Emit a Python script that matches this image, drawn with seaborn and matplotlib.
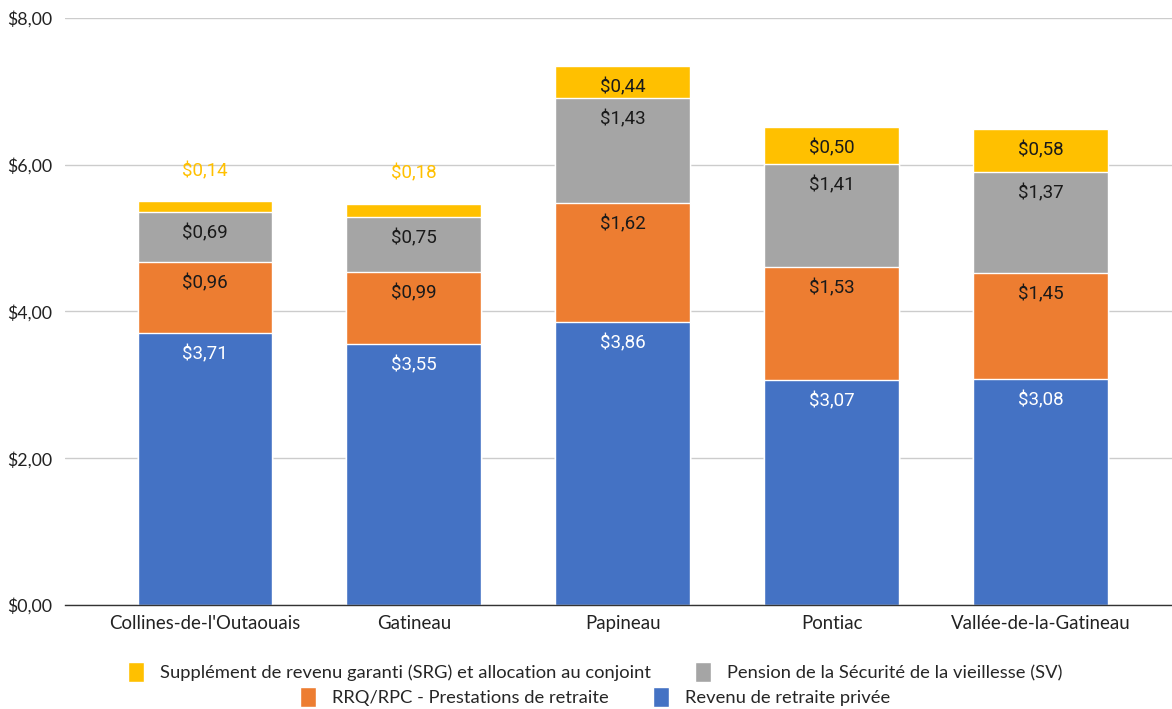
import matplotlib
matplotlib.use("Agg")
import matplotlib.pyplot as plt
import seaborn as sns
import pandas as pd
import numpy as np
from matplotlib.patches import Patch

categories = ["Collines-de-l'Outaouais", "Gatineau", "Papineau", "Pontiac", "Vallée-de-la-Gatineau"]
prive = [3.71, 3.55, 3.86, 3.07, 3.08]
rrq = [0.96, 0.99, 1.62, 1.53, 1.45]
sv = [0.69, 0.75, 1.43, 1.41, 1.37]
srg = [0.14, 0.18, 0.44, 0.50, 0.58]
yticks = [0, 2, 4, 6, 8]
ytick_labels = ["$0,00", "$2,00", "$4,00", "$6,00", "$8,00"]

series_names = ["Revenu de retraite privée", "RRQ/RPC - Prestations de retraite",
                "Pension de la Sécurité de la vieillesse (SV)",
                "Supplément de revenu garanti (SRG) et allocation au conjoint"]
series_vals = [prive, rrq, sv, srg]
colors = ["#4472C4", "#ED7D31", "#A5A5A5", "#FFC000"]
label_colors = ["white", "#1a1a1a", "#1a1a1a", "#1a1a1a"]

sns.set_theme(style="white")
plt.rcParams["font.family"] = ["Lato", "DejaVu Sans"]

fig = plt.figure(figsize=(11.72, 7.09), dpi=100)
ax = fig.add_axes([0.0555, 0.1467, 0.9445, 0.828])

cum = np.cumsum(np.array(series_vals), axis=0)
# draw from top-most cumulative to bottom so lower layers overlay
for i in range(3, -1, -1):
    df = pd.DataFrame({"cat": categories, "val": cum[i]})
    sns.barplot(data=df, x="cat", y="val", color=colors[i], width=0.646,
                saturation=1, ax=ax, order=categories, zorder=3)

# labels
for i in range(4):
    for j, cat in enumerate(categories):
        v = series_vals[i][j]
        top = cum[i][j]
        txt = "$" + f"{v:.2f}".replace(".", ",")
        if v < 0.3:
            ax.text(j, top + 0.41, txt, ha="center", va="center", color=colors[i],
                    fontsize=13.5, family=["Roboto", "DejaVu Sans"], zorder=5)
        else:
            ax.text(j, top - 0.29, txt, ha="center", va="center", color=label_colors[i],
                    fontsize=13.5, family=["Roboto", "DejaVu Sans"], zorder=5)

ax.set_ylim(0, 8)
ax.set_xlim(-0.67, 4.63)
ax.set_yticks(yticks)
ax.set_yticklabels(ytick_labels, fontsize=12.8, color="#222222")
ax.tick_params(axis="x", labelsize=13.4, colors="#222222", length=0, pad=7)
ax.tick_params(axis="y", length=0, pad=9)
ax.set_xlabel("")
ax.set_ylabel("")
ax.grid(axis="y", color="#cccccc", linewidth=1, zorder=0)
ax.set_axisbelow(True)
for s in ["top", "right", "left"]:
    ax.spines[s].set_visible(False)
ax.spines["bottom"].set_color("#333333")
ax.spines["bottom"].set_linewidth(1)
ax.spines["bottom"].set_zorder(6)

row1 = [Patch(facecolor=colors[3], label=series_names[3]),
        Patch(facecolor=colors[2], label=series_names[2])]
row2 = [Patch(facecolor=colors[1], label=series_names[1]),
        Patch(facecolor=colors[0], label=series_names[0])]
common = dict(frameon=False, fontsize=13.2, handlelength=0.85, handleheight=1.25,
              handletextpad=0.9, columnspacing=2.4, borderaxespad=0, borderpad=0)
l1 = fig.legend(handles=row1, loc="center", bbox_to_anchor=(0.508, 1 - 672 / 709), ncol=2, **common)
l2 = fig.legend(handles=row2, loc="center", bbox_to_anchor=(0.508, 1 - 697 / 709), ncol=2, **common)

fig.savefig("out.png", dpi=100)
